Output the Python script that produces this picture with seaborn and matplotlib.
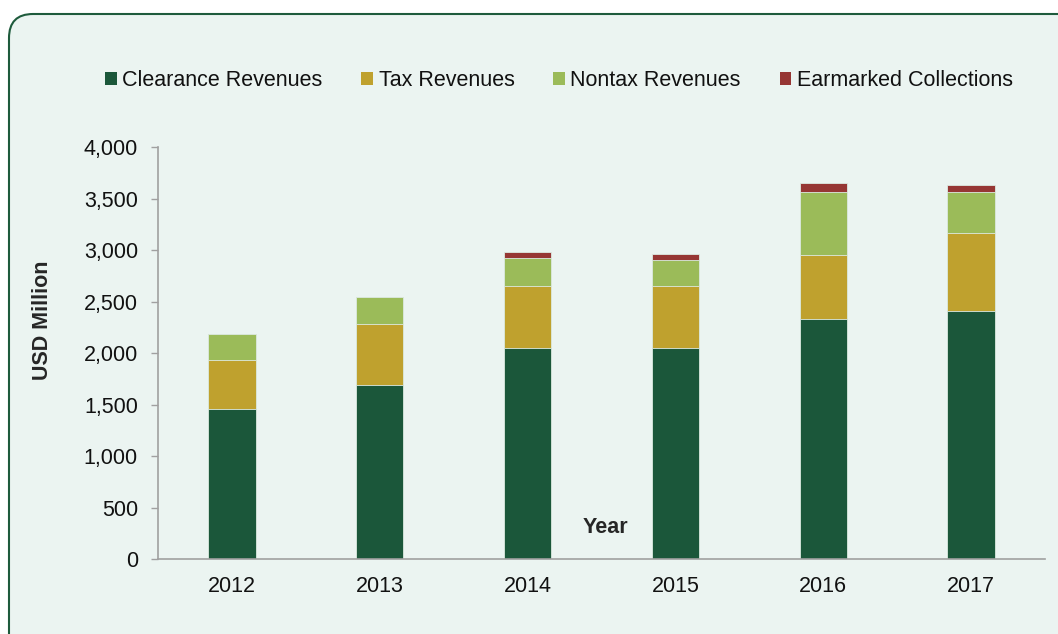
import numpy as np
import pandas as pd
import seaborn as sns
import matplotlib.pyplot as plt
from matplotlib.patches import FancyBboxPatch, Patch

# ====================== data ======================
years = ['2012', '2013', '2014', '2015', '2016', '2017']
clearance = [1456, 1689, 2051, 2051, 2336, 2414]
tax = [479, 595, 599, 605, 621, 757]
nontax = [252, 263, 272, 250, 609, 395]
earmarked = [0, 0, 63, 55, 84, 71]

series = ['Clearance Revenues', 'Tax Revenues', 'Nontax Revenues', 'Earmarked Collections']
colors = ['#1B573A', '#BFA12E', '#9BBB59', '#963634']

df = pd.DataFrame({'Year': years, 'Clearance Revenues': clearance, 'Tax Revenues': tax,
                   'Nontax Revenues': nontax, 'Earmarked Collections': earmarked})

sns.set_theme(style="white")
plt.rcParams['font.family'] = ['Liberation Sans', 'DejaVu Sans']
FS = 15.5

fig = plt.figure(figsize=(10.58, 6.34), dpi=100)
fig.patch.set_facecolor('white')
W, H = 1058, 634

# rounded panel behind everything, on its own background axes
bg = fig.add_axes([0, 0, 1, 1], zorder=-1)
bg.set_xlim(0, W)
bg.set_ylim(H, 0)
bg.axis('off')
bg.add_patch(FancyBboxPatch((9, 14), 1100, 660, boxstyle="round,pad=0,rounding_size=24",
                            facecolor='#EBF4F1', edgecolor='#1E5B3C', linewidth=1.5))

ax = fig.add_axes([158 / W, 1 - 559.3 / H, (1045 - 158) / W, (559.3 - 147.3) / H])
ax.set_facecolor('none')

# stacked bars: draw cumulative totals back to front
cum = df[series].cumsum(axis=1)
for name, col in reversed(list(zip(series, colors))):
    sns.barplot(x=df['Year'], y=cum[name], color=col, width=0.32, ax=ax,
                edgecolor='#DDEBE3', linewidth=0.6, saturation=1)

ax.set_ylim(0, 4000)
ax.set_yticks(np.arange(0, 4001, 500))
ax.set_yticklabels([f'{v:,}' for v in range(0, 4001, 500)], fontsize=FS, color='#111111')
ax.tick_params(axis='x', labelsize=FS, colors='#111111', length=0, pad=12)
ax.tick_params(axis='y', length=5, width=1, color='#A0A0A0', left=True, pad=9.5)

for s in ['top', 'right']:
    ax.spines[s].set_visible(False)
ax.spines['left'].set_color('#A0A0A0')
ax.spines['bottom'].set_color('#A0A0A0')
ax.spines['left'].set_linewidth(1.2)
ax.spines['bottom'].set_linewidth(1.2)

ax.set_ylabel('USD Million', fontsize=FS, fontweight='bold')
ax.yaxis.set_label_coords((53 - 158) / (1045 - 158), (559.3 - 320) / (559.3 - 147.3))
ax.set_xlabel('Year', fontsize=FS, fontweight='bold')
ax.xaxis.set_label_coords((605 - 158) / (1045 - 158), (559.3 - 517) / (559.3 - 147.3))

handles = [Patch(facecolor=c, edgecolor='none') for c in colors]
fig.legend(handles, series, loc='center', bbox_to_anchor=(559 / W, 1 - 81 / H), ncol=4,
           frameon=False, fontsize=FS, handlelength=0.55, handleheight=0.55,
           handletextpad=0.25, columnspacing=1.8, labelcolor='#111111')

plt.savefig('out.png', dpi=100)
